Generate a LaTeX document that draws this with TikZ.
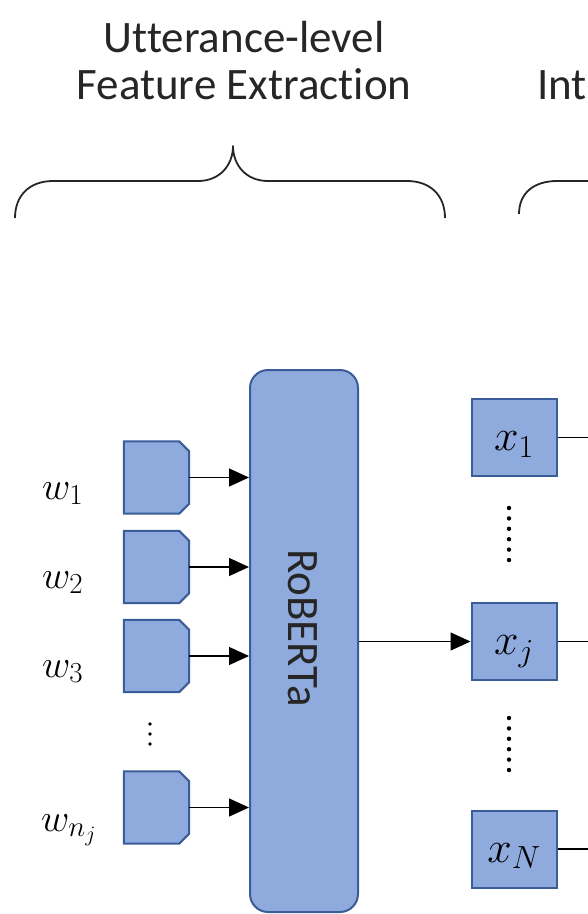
\RequirePackage{fix-cm}
\documentclass[tikz,border=0pt]{standalone}
\usepackage{fontspec}
\setmainfont{Carlito}[Ligatures=NoCommon]
\usetikzlibrary{arrows.meta}
\definecolor{boxfill}{HTML}{8FAADC}
\definecolor{boxline}{HTML}{3A5C98}
\definecolor{ink}{HTML}{262626}
\DeclareMathSizes{39}{39}{29}{22}
\DeclareMathSizes{44}{44}{32}{24}

\begin{document}
\begin{tikzpicture}[x=1pt,y=-1pt,
  heading/.style={font=\fontsize{45}{47}\selectfont, text=ink, align=center, inner sep=0pt},
  brace/.style={draw=ink, line width=1.8pt, line join=round},
  tokenbox/.style={rectangle, minimum width=65pt, minimum height=72pt, inner sep=0pt},
  tokenline/.style={draw=boxline, fill=boxfill, line width=2pt, line join=miter},
  featbox/.style={rectangle, draw=boxline, fill=boxfill, line width=2pt,
    minimum width=85pt, minimum height=77pt, inner sep=0pt,
    font=\fontsize{44}{48}\selectfont, text height=32pt, text depth=6pt},
  encoder/.style={rectangle, rounded corners=18pt, draw=boxline, fill=boxfill, line width=2pt,
    minimum width=108pt, minimum height=542pt, inner sep=0pt},
  wlabel/.style={font=\fontsize{39}{44}\selectfont, anchor=base west, inner sep=0pt},
  arr/.style={draw=black, line width=1.3pt, -{Triangle[length=20pt,width=18pt]}},
  link/.style={draw=black, line width=1.3pt},
  dot/.style={fill=black, draw=none}]

\useasboundingbox (0,0) rectangle (588,914);

% headings
\node[heading, anchor=south] (h1) at (244,100) {Utterance-level\\Feature Extraction};
\node[heading, anchor=south west] (h2) at (537,100) {Int};

% braces
\draw[brace] (15,218) .. controls (15,195) and (30,181) .. (53,181) -- (198,181)
  .. controls (220,181) and (233,165) .. (233,146)
  .. controls (233,165) and (246,181) .. (268,181) -- (407,181)
  .. controls (430,181) and (445,195) .. (445,218);
\draw[brace] (519,214) .. controls (519,193) and (534,181) .. (557,181) -- (590,181);

% word tokens: boxes with both right-hand corners cut off
\node[tokenbox] (t1) at (156.5,477.5) {};
\node[tokenbox] (t2) at (156.5,567) {};
\node[tokenbox] (t3) at (156.5,656) {};
\node[tokenbox] (tn) at (156.5,807.5) {};
\foreach \t in {t1,t2,t3,tn}
  \filldraw[tokenline] (\t.north west) -- ([xshift=-10pt]\t.north east)
    -- ([yshift=-10pt]\t.north east) -- ([yshift=10pt]\t.south east)
    -- ([xshift=-10pt]\t.south east) -- (\t.south west) -- cycle;

\node[wlabel] (w1) at (42,499) {$w_1$};
\node[wlabel] (w2) at (42,588) {$w_2$};
\node[wlabel] (w3) at (42,677) {$w_3$};
\node[wlabel] (wn) at (41,831) {$w_{n_j}$};

\foreach \y in {724,734,744} \fill[dot] (150,\y) circle (1.8pt);

% encoder
\node[encoder] (rob) at (304,641) {};
\node[rotate=-90, font=\fontsize{45}{48}\selectfont, text=ink, inner sep=0pt] (robtxt) at (302.5,628) {RoBERTa};

\foreach \t in {t1,t2,t3,tn} \draw[arr] (\t.east) -- (\t.east -| rob.west);

% utterance features
\node[featbox] (x1) at (514,437.5) {$x_1$};
\node[featbox] (xj) at (514,641.5) {$x_j$};
\node[featbox] (xN) at (514,849) {$x_N$};

\foreach \y in {508,518.4,528.8,539.2,549.6,560} \fill[dot] (509,\y) circle (2.2pt);
\foreach \y in {718,728.4,738.8,749.2,759.6,770} \fill[dot] (509,\y) circle (2.2pt);

\draw[arr] (xj.west -| rob.east) -- (xj.west);

\coordinate (edge) at (590,0);
\foreach \x in {x1,xj,xN} \draw[link] (\x.east) -- (\x.east -| edge);

\end{tikzpicture}
\end{document}
